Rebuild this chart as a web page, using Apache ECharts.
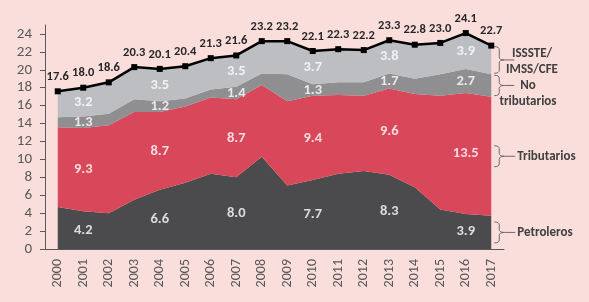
<!DOCTYPE html>
<html>
    <head>
        <meta charset="utf-8">
        <script src="https://cdn.jsdelivr.net/npm/echarts@6/dist/echarts.min.js"></script>
    </head>
    <body style="margin:0">
        <style>
            html, body, #main {
                width: 589px;
                height: 302px;
                margin: 0;
            }
        </style>
        <div id="main"></div>
        <script>
            var years = ['2000', '2001', '2002', '2003', '2004', '2005', '2006', '2007', '2008',
                '2009', '2010', '2011', '2012', '2013', '2014', '2015', '2016', '2017'];
            var petroleros = [4.7, 4.2, 4.0, 5.5, 6.6, 7.4, 8.4, 8.0, 10.3, 7.1, 7.7, 8.4, 8.7, 8.3, 6.9, 4.4, 3.9, 3.7];
            var tributarios = [8.9, 9.3, 9.8, 9.8, 8.7, 8.5, 8.5, 8.7, 8.0, 9.4, 9.4, 8.8, 8.4, 9.6, 10.4, 12.7, 13.5, 13.3];
            var noTributarios = [1.1, 1.3, 1.3, 1.4, 1.2, 0.9, 0.9, 1.4, 1.3, 3.0, 1.3, 1.4, 1.5, 1.7, 1.7, 2.4, 2.7, 2.5];
            var isssteImssCfe = [2.9, 3.2, 3.5, 3.6, 3.5, 3.6, 3.5, 3.5, 3.6, 3.7, 3.7, 3.7, 3.6, 3.8, 3.8, 3.5, 3.9, 3.2];
            var total = [17.6, 18.0, 18.6, 20.3, 20.1, 20.4, 21.3, 21.6, 23.2, 23.2, 22.1, 22.3, 22.2, 23.3, 22.8, 23.0, 24.1, 22.7];
            var labelYears = ['2001', '2004', '2007', '2010', '2013', '2016'];

            var layers = [
                {name: 'Petroleros', data: petroleros, color: '#4b4b4d', tag: ['Petroleros']},
                {name: 'Tributarios', data: tributarios, color: '#d8485a', tag: ['Tributarios']},
                {name: 'No tributarios', data: noTributarios, color: '#8f8f92', tag: ['No', 'tributarios']},
                {name: 'ISSSTE/IMSS/CFE', data: isssteImssCfe, color: '#bdbec2', tag: ['ISSSTE/', 'IMSS/CFE']}
            ];

            var font = 'Carlito, Lato, sans-serif';
            var textColor = '#595959';

            var chart = echarts.init(document.getElementById('main'));

            var series = [];
            var base = years.map(function () { return 0; });
            layers.forEach(function (layer) {
                series.push({
                    name: layer.name,
                    type: 'line',
                    stack: 'all',
                    symbol: 'none',
                    lineStyle: {width: 0},
                    itemStyle: {color: layer.color},
                    areaStyle: {color: layer.color, opacity: 1},
                    data: layer.data,
                    z: 2
                });
                // value labels sit in the middle of each band
                var pts = [];
                labelYears.forEach(function (y) {
                    var i = years.indexOf(y);
                    pts.push([y, base[i] + layer.data[i] / 2, layer.data[i]]);
                });
                series.push({
                    type: 'scatter',
                    symbolSize: 0,
                    silent: true,
                    data: pts,
                    z: 4,
                    label: {
                        show: true,
                        position: 'inside',
                        color: '#fff',
                        fontWeight: 'bold',
                        fontSize: 14.5,
                        fontFamily: font,
                        formatter: function (p) { return p.value[2].toFixed(1); }
                    }
                });
                layer.base = base.slice();
                base = base.map(function (b, i) { return b + layer.data[i]; });
            });

            series.push({
                name: 'Total',
                type: 'line',
                data: total,
                symbol: 'rect',
                symbolSize: 6,
                z: 5,
                itemStyle: {color: '#000'},
                lineStyle: {color: '#000', width: 2.5},
                label: {
                    show: true,
                    position: 'top',
                    distance: 5,
                    color: '#262626',
                    fontWeight: 'bold',
                    fontSize: 12.5,
                    fontFamily: font,
                    formatter: function (p) { return p.value.toFixed(1); }
                }
            });

            chart.setOption({
                backgroundColor: '#f9dedb',
                animation: false,
                grid: {left: 45, right: 85, top: 25, bottom: 53},
                xAxis: {
                    type: 'category',
                    data: years,
                    boundaryGap: true,
                    axisLine: {lineStyle: {color: textColor}},
                    axisTick: {length: 5, lineStyle: {color: textColor}},
                    axisLabel: {rotate: 90, color: textColor, fontSize: 14, fontFamily: font, margin: 10}
                },
                yAxis: {
                    type: 'value',
                    min: 0,
                    max: 25,
                    interval: 2,
                    splitLine: {show: false},
                    axisLine: {show: true, lineStyle: {color: textColor}},
                    axisTick: {show: true, length: 5, lineStyle: {color: textColor}},
                    axisLabel: {color: textColor, fontSize: 15, fontFamily: font, margin: 13, showMaxLabel: false}
                },
                series: series
            });

            // braces with their tags on the right side, placed from the 2017 band edges
            function quad(p0, c, p1) {
                var out = [];
                for (var t = 0; t <= 1.0001; t += 0.25) {
                    out.push([
                        (1 - t) * (1 - t) * p0[0] + 2 * (1 - t) * t * c[0] + t * t * p1[0],
                        (1 - t) * (1 - t) * p0[1] + 2 * (1 - t) * t * c[1] + t * t * p1[1]
                    ]);
                }
                return out;
            }
            var last = years.length - 1;
            var graphics = [];
            layers.forEach(function (layer, k) {
                var lo = chart.convertToPixel({gridIndex: 0}, [years[last], layer.base[last]]);
                var hi = chart.convertToPixel({gridIndex: 0}, [years[last], layer.base[last] + layer.data[last]]);
                var x = lo[0] + 3;
                var h = lo[1] - hi[1];
                var ym = (lo[1] + hi[1]) / 2;
                var half = h < 32 ? h / 2 - 1 : 10.5;
                var y0 = ym - half, y1 = ym + half, w = 10, r = 3;
                var pts = [].concat(
                    quad([x, y0], [x + w / 2, y0], [x + w / 2, y0 + r]),
                    quad([x + w / 2, ym - r], [x + w / 2, ym], [x + w, ym]),
                    quad([x + w, ym], [x + w / 2, ym], [x + w / 2, ym + r]),
                    quad([x + w / 2, y1 - r], [x + w / 2, y1], [x, y1])
                );
                graphics.push({
                    type: 'polyline',
                    shape: {points: pts},
                    style: {stroke: '#6b6b6b', lineWidth: 1, fill: null}
                });
                var two = layer.tag.length > 1;
                var dashEnd = two ? x + w + 10 : x + w + 11;
                graphics.push({
                    type: 'line',
                    shape: {x1: x + w, y1: ym, x2: dashEnd, y2: ym},
                    style: {stroke: '#6b6b6b', lineWidth: 1}
                });
                var cx = k === 3 ? 532 : 528;
                graphics.push({
                    type: 'text',
                    x: two ? cx : dashEnd + 2,
                    y: k === 3 ? ym - 14 : ym - 7.5,
                    style: {
                        text: layer.tag.join('\n'),
                        fill: '#404040',
                        font: 'bold 13px ' + font,
                        lineHeight: 16,
                        align: two ? 'center' : 'left',
                        verticalAlign: 'top'
                    }
                });
            });
            chart.setOption({graphic: graphics});
        </script>
    </body>
</html>
